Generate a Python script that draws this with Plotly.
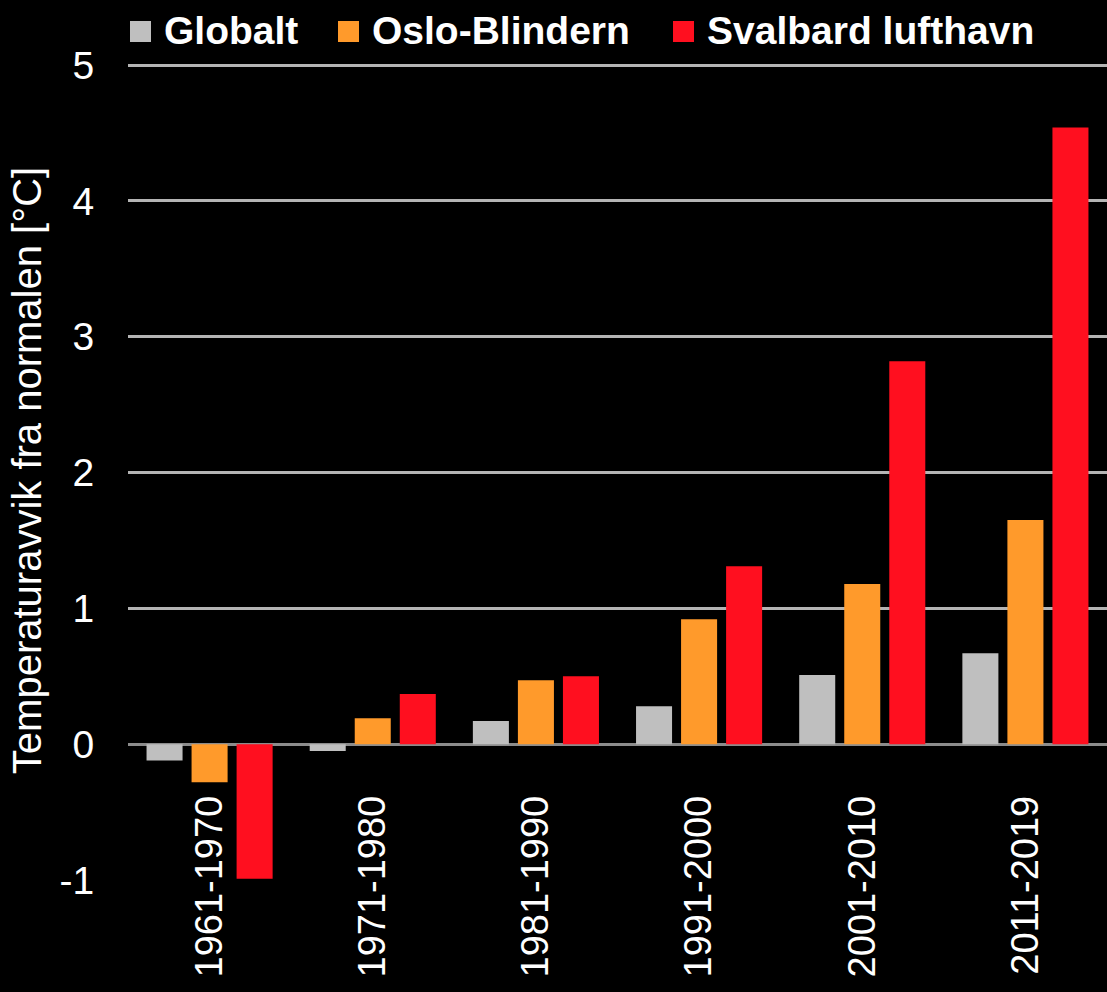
import plotly.graph_objects as go

categories = ["1961-1970", "1971-1980", "1981-1990", "1991-2000", "2001-2010", "2011-2019"]
globalt = [-0.12, -0.05, 0.17, 0.28, 0.51, 0.67]
oslo = [-0.28, 0.19, 0.47, 0.92, 1.18, 1.65]
svalbard = [-0.99, 0.37, 0.50, 1.31, 2.82, 4.54]
y_ticks = [-1, 0, 1, 2, 3, 4, 5]
y_tick_text = ["-1", "0", "1", "2", "3", "4", "5"]

series_names = ["Globalt", "Oslo-Blindern", "Svalbard lufthavn"]
series_values = [globalt, oslo, svalbard]
series_colors = ["#BFBFBF", "#FF9A2B", "#FF0F1F"]

W, H = 1107, 992
L, R, T, B = 128, 0, 61, 112
plot_w = W - L - R
plot_h = H - T - B


def px_x(px):
    return (px - L) / plot_w


def px_y(py):
    return (H - B - py) / plot_h


fig = go.Figure()
for name, vals, col in zip(series_names, series_values, series_colors):
    fig.add_trace(go.Bar(x=categories, y=vals, name=name, showlegend=False,
                         marker=dict(color=col, line=dict(width=0))))

# Legend drawn as squares + text (square positions in pixels)
legend_sq_x = [130, 338, 673]
shapes = []
annotations = []
for sx, name, col in zip(legend_sq_x, series_names, series_colors):
    shapes.append(dict(type="rect", xref="paper", yref="paper",
                       x0=px_x(sx), x1=px_x(sx + 21), y0=px_y(42), y1=px_y(21),
                       fillcolor=col, line=dict(width=0)))
    annotations.append(dict(xref="paper", yref="paper", x=px_x(sx + 32), y=px_y(31),
                            xanchor="left", yanchor="middle", showarrow=False,
                            text="<b>" + name + "</b>",
                            font=dict(size=39, color="white", family="Liberation Sans, Arial, sans-serif")))

ymin, ymax = -1, 5.03
fig.update_layout(
    width=W, height=H,
    paper_bgcolor="black", plot_bgcolor="black",
    margin=dict(l=L, r=R, t=T, b=B, autoexpand=False),
    barmode="group", bargap=0.172, bargroupgap=0.2,
    font=dict(family="Liberation Sans, Arial, sans-serif", color="white", size=38),
    showlegend=False,
    shapes=shapes,
    annotations=annotations,
    xaxis=dict(
        anchor="free", position=(0 - ymin) / (ymax - ymin),
        tickangle=-90, showgrid=False, showline=False, zeroline=False,
        ticks="", ticklabelstandoff=43, automargin=False,
        tickfont=dict(size=38, color="white"),
    ),
    yaxis=dict(
        range=[ymin, ymax], tickvals=y_ticks, ticktext=y_tick_text, showgrid=True,
        gridcolor="#B4B4B4", gridwidth=2.5, automargin=False,
        zeroline=True, zerolinecolor="#8C8C8C", zerolinewidth=2.5,
        showline=False, ticks="outside", ticklen=25, tickcolor="black",
        tickfont=dict(size=39, color="white"),
        title=dict(text="Temperaturavvik fra normalen [°C]", font=dict(size=40, color="white"), standoff=5),
    ),
)

fig.write_html("out.html", config={"displayModeBar": False},
               post_script="document.body.style.margin='0';document.body.style.background='black';")
